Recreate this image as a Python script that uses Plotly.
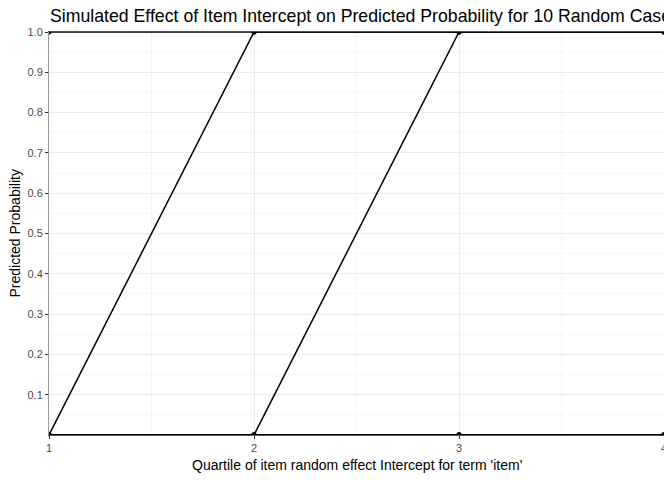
import plotly.graph_objects as go

# quartile positions and predicted probability for the 10 random cases
quartiles = [1, 2, 3, 4]
case_ids = [1, 2, 3, 4, 5, 6, 7, 8, 9, 10]
case_probs = [
    [0, 1, 1, 1],
    [0, 0, 1, 1],
    [1, 1, 1, 1],
    [0, 0, 0, 0],
    [0, 0, 0, 0],
    [0, 0, 0, 0],
    [0, 0, 0, 0],
    [0, 0, 0, 0],
    [0, 0, 0, 0],
    [0, 0, 0, 0],
]
y_ticks = [0.1, 0.2, 0.3, 0.4, 0.5, 0.6, 0.7, 0.8, 0.9, 1.0]
y_labels = ["0.1", "0.2", "0.3", "0.4", "0.5", "0.6", "0.7", "0.8", "0.9", "1.0"]

fig = go.Figure()
for cid, probs in zip(case_ids, case_probs):
    fig.add_trace(go.Scatter(
        x=quartiles, y=probs, mode="lines+markers", name=f"case {cid}",
        line=dict(color="black", width=1.5),
        marker=dict(color="black", size=5),
        showlegend=False,
    ))

FONT = "Liberation Sans, Arial, sans-serif"
axis_font = dict(family=FONT, size=11, color="#4D4D4D")

# page body adds 8px, so the figure is 664x472
W, H = 664, 472
fig.update_layout(
    width=W, height=H,
    plot_bgcolor="white", paper_bgcolor="white",
    margin=dict(l=41, r=8, t=24, b=45, autoexpand=False),
    font=dict(family=FONT, color="black"),
    title=dict(
        text="Simulated Effect of Item Intercept on Predicted Probability for 10 Random Cases",
        xref="container", x=42 / W, xanchor="left",
        yref="container", y=1 - 7.5 / H, yanchor="middle",
        font=dict(size=17.7, color="black"),
        automargin=False,
    ),
    annotations=[
        dict(text="Quartile of item random effect Intercept for term 'item'",
             xref="paper", yref="paper", x=0.5, y=0, xanchor="center", yanchor="middle",
             yshift=-30, showarrow=False, font=dict(size=14, color="black")),
        dict(text="Predicted Probability", textangle=-90,
             xref="paper", yref="paper", x=0, y=0.5, xanchor="center", yanchor="middle",
             xshift=-35, showarrow=False, font=dict(size=14, color="black")),
    ],
)
fig.update_xaxes(
    range=[1, 4], tickvals=quartiles, ticktext=[str(q) for q in quartiles],
    showgrid=True, gridcolor="#EBEBEB", gridwidth=1.1,
    minor=dict(showgrid=True, gridcolor="#F5F5F5", gridwidth=0.6, tickvals=[1.5, 2.5, 3.5]),
    zeroline=False, showline=True, mirror=True, linecolor="#555555", linewidth=1,
    ticks="outside", ticklen=3, tickcolor="#333333", tickfont=axis_font,
    ticklabeloverflow="allow",
    automargin=False,
    layer="below traces",
)
fig.update_yaxes(
    range=[0, 1], tickvals=y_ticks, ticktext=y_labels,
    showgrid=True, gridcolor="#EBEBEB", gridwidth=1.1,
    minor=dict(showgrid=True, gridcolor="#F5F5F5", gridwidth=0.6,
               tickvals=[0.05, 0.15, 0.25, 0.35, 0.45, 0.55, 0.65, 0.75, 0.85, 0.95]),
    zeroline=False, showline=True, mirror=True, linecolor="#999999", linewidth=1,
    ticks="outside", ticklen=3, tickcolor="#333333", tickfont=axis_font,
    ticklabeloverflow="allow",
    automargin=False,
    layer="below traces",
)

fig.write_html("out.html")
